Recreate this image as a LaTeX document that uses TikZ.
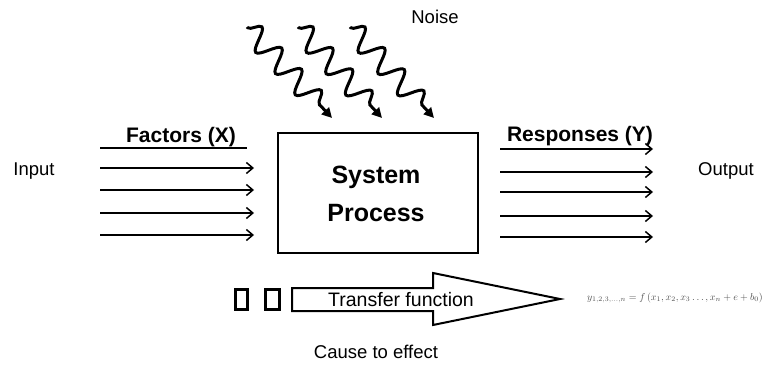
\documentclass[tikz,border=0pt]{standalone}
\usepackage{fontspec}
\setmainfont{Liberation Sans}
\usetikzlibrary{arrows.meta,decorations.pathmorphing}
\begin{document}
\begin{tikzpicture}[x=1pt,y=-1pt,
  noise/.style={line width=3pt,decorate,
    decoration={snake,segment length=29pt,amplitude=11pt,pre length=1pt,post length=9pt},
    -{Triangle[length=10pt,width=10pt]}},
  flow/.style={line width=1.5pt,-{Straight Barb[length=6.5pt,width=11pt]}},
  lbl/.style={inner sep=0pt,font=\fontsize{18.5}{20}\selectfont},
  bold/.style={inner sep=0pt,font=\fontsize{21}{24}\selectfont\bfseries}]
\useasboundingbox (0,0) rectangle (762,366);
% noise
\node[lbl] (noise) at (435,17) {Noise};
\foreach \i/\sx/\ex in {1/247/332,2/298/382,3/350/434}{
  \coordinate (ns\i) at (\sx,27);
  \coordinate (ne\i) at (\ex,118);
  \draw[noise] (ns\i) -- (ne\i);
}
% system box
\node[draw,line width=1.6pt,minimum width=200pt,minimum height=120pt,inner sep=0pt] (box) at (378,193) {};
\node[inner sep=0pt,font=\fontsize{25}{26}\selectfont\bfseries] (sys) at (376,177) {System};
\node[inner sep=0pt,font=\fontsize{25}{26}\selectfont\bfseries] (proc) at (376,213) {Process};
% inputs
\node[lbl] (input) at (34,171) {Input};
\node[bold] (factors) at (181,137) {Factors (X)};
\coordinate (ul1) at (100,148); \coordinate (ul2) at (247,148);
\draw[line width=1.5pt] (ul1) -- (ul2);
\foreach \i/\y in {1/168,2/190,3/213,4/235}{
  \coordinate (is\i) at (100,\y); \coordinate (ie\i) at (254,\y);
  \draw[flow] (is\i) -- (ie\i);
}
% outputs
\node[lbl] (output) at (726,171) {Output};
\node[bold] (resp) at (580,136) {Responses (Y)};
\foreach \i/\y in {1/149,2/172,3/192,4/216,5/237}{
  \coordinate (os\i) at (500,\y); \coordinate (oe\i) at (653,\y);
  \draw[flow] (os\i) -- (oe\i);
}
% transfer function
\node[draw,line width=2.4pt,minimum width=12pt,minimum height=20pt,inner sep=0pt] (r1) at (241.5,299.5) {};
\node[draw,line width=2.4pt,minimum width=14pt,minimum height=20pt,inner sep=0pt] (r2) at (272.5,299.5) {};
\draw[line width=2pt,line join=miter] (292,288) -- (433,288) -- (433,273) -- (560,299) -- (433,325) -- (433,311) -- (292,311) -- cycle;
\node[inner sep=0pt,font=\fontsize{19.5}{20}\selectfont] (tf) at (401,300) {Transfer function};
\node[lbl] (cause) at (376,352) {Cause to effect};
\node[inner sep=0pt,text=black!70,font=\fontsize{10}{12}\selectfont] (formula) at (675,298)
  {$y_{1,2,3,\ldots,n}=f\,(x_1,x_2,x_3\ldots,x_n+e+b_0)$};
\end{tikzpicture}
\end{document}
